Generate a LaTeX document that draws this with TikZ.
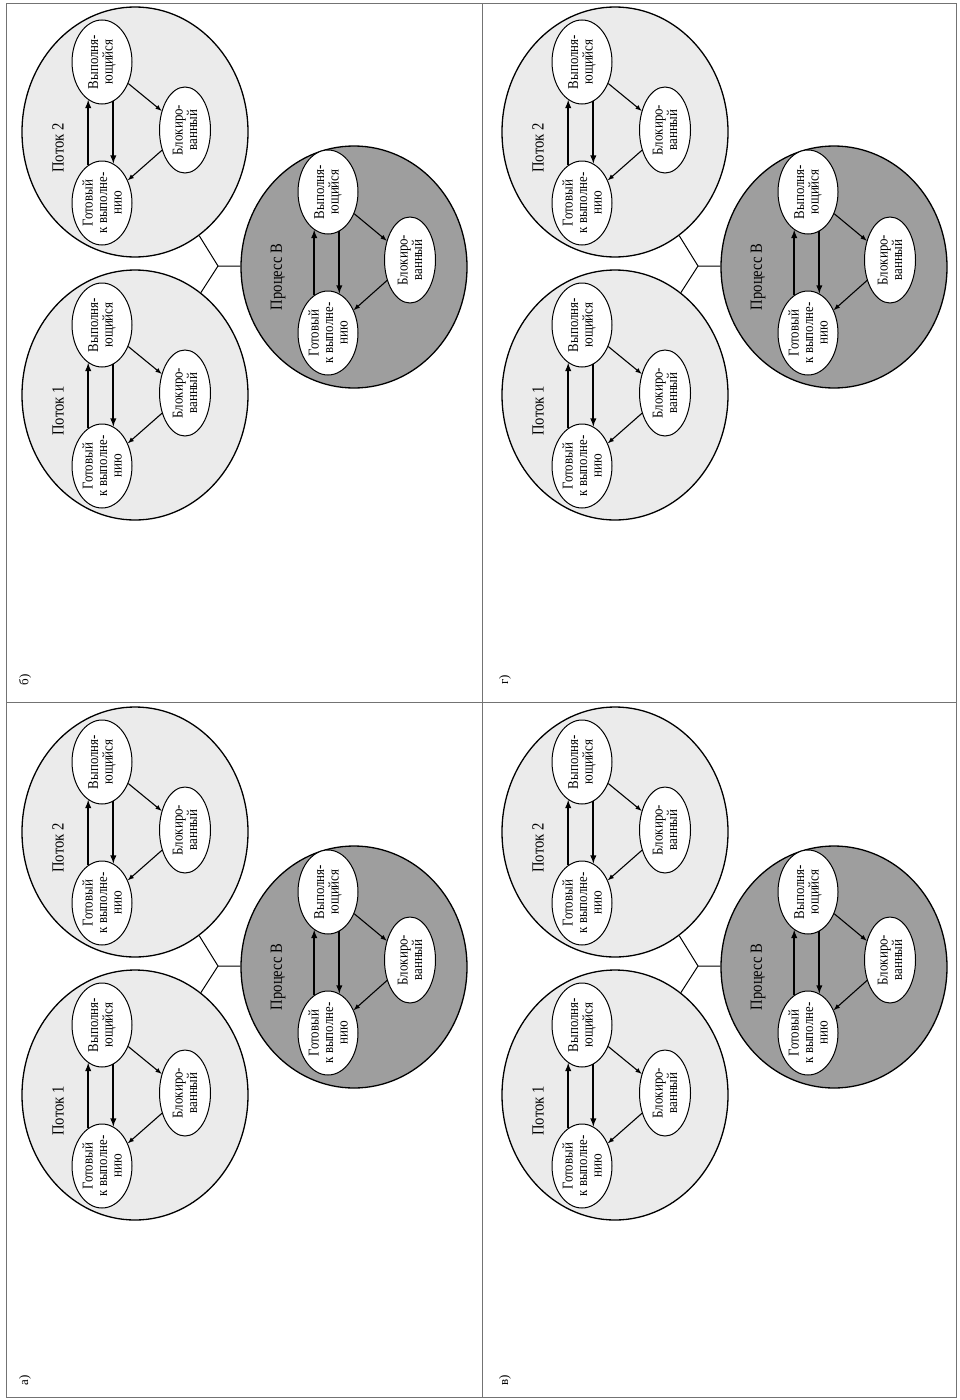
\documentclass[tikz,border=0pt]{standalone}
\usepackage{fontspec}
\setmainfont{Liberation Serif}
\newfontfamily\uzkiy{Liberation Serif}[FakeStretch=0.86]
\usetikzlibrary{shapes.geometric, positioning}

\tikzset{
    potok/.style={ellipse, draw, line width=1.3pt, fill=black!8, minimum width=250pt, minimum height=226pt, rotate=90},
    process/.style={ellipse, draw, line width=1.3pt, fill=black!38, minimum width=242pt, minimum height=226pt, rotate=90},
    sost/.style={ellipse, draw, line width=1pt, fill=white, rotate=90, align=center, inner sep=-3pt, minimum width=84pt, minimum height=60pt, font=\uzkiy\fontsize{15}{14.5}\selectfont},
    sostb/.style={sost, minimum width=86pt, minimum height=51pt},
    metka/.style={rotate=90, font=\uzkiy\fontsize{17}{18}\selectfont},
    perehod/.style={->, line width=1.8pt},
    tonko/.style={->, line width=1.1pt}
}

\begin{document}
\begin{tikzpicture}[>=latex, x=1pt, y=-1pt]
    \useasboundingbox (0,0) rectangle (960,1400);
    % рамка и разделители
    \draw[black!55, line width=0.8pt] (6,3) rectangle (956,1397);
    \draw[black!55, line width=0.8pt] (482,3) -- (482,1397);
    \draw[black!55, line width=0.8pt] (6,702) -- (956,702);

    % четыре одинаковые схемы
    \foreach \dx/\dy/\lab/\nm in {0/700/а)/a, 0/0/б)/b, 480/700/в)/v, 480/0/г)/g} {
    \begin{scope}[shift={(\dx,\dy)}, name prefix=\nm-]
        \node[metka, font=\fontsize{13}{14}\selectfont] (lab) at (25,680) {\lab};

        % потоки
        \foreach \t/\y/\txt in {t2/132/Поток 2, t1/395/Поток 1} {
            \node[potok] (\t) at (135,\y) {};
            \node[metka] (\t-lab) at (58,{\y+16}) {\txt};
            \node[sost] (\t-run) at (102,{\y-70}) {Выполня-\\ющийся};
            \node[sost] (\t-rdy) at (102,{\y+71}) {Готовый\\к выполне-\\нию};
            \node[sostb] (\t-blk) at (185,{\y-2}) {Блокиро-\\ванный};
            \draw[perehod] (\t-rdy.20) -- (\t-run.160);
            \draw[perehod] (\t-run.196) -- (\t-rdy.-16);
            \draw[tonko] (\t-run) -- (\t-blk);
            \draw[tonko] (\t-blk) -- (\t-rdy);
        }

        % процесс
        \node[process] (pr) at (354,267) {};
        \node[metka] (pr-lab) at (278,277) {Процесс В};
        \node[sost] (pr-run) at (328,192) {Выполня-\\ющийся};
        \node[sost] (pr-rdy) at (328,333) {Готовый\\к выполне-\\нию};
        \node[sostb] (pr-blk) at (410,260) {Блокиро-\\ванный};
        \draw[perehod] (pr-rdy.20) -- (pr-run.160);
        \draw[perehod] (pr-run.196) -- (pr-rdy.-16);
        \draw[tonko] (pr-run) -- (pr-blk);
        \draw[tonko] (pr-blk) -- (pr-rdy);

        % связь потоков с процессом
        \coordinate (j) at (218,266);
        \draw[line width=1pt] (t2) -- (j) -- (pr);
        \draw[line width=1pt] (t1) -- (j);
    \end{scope}
    }
\end{tikzpicture}
\end{document}
